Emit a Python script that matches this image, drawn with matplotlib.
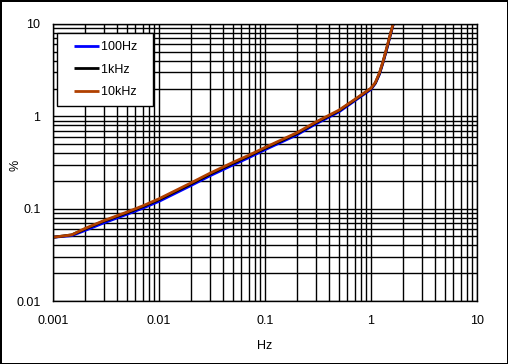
import matplotlib
matplotlib.use("Agg")
import matplotlib.pyplot as plt
from matplotlib.ticker import LogLocator, FixedLocator, NullFormatter
from matplotlib.legend_handler import HandlerLine2D
from matplotlib.lines import Line2D

plt.rcParams['font.family'] = ['Liberation Sans', 'DejaVu Sans']

# level (Hz axis) and distortion (%)
freq = [0.001, 0.0015, 0.002, 0.003, 0.005, 0.007, 0.01, 0.02, 0.03, 0.05,
        0.07, 0.1, 0.2, 0.3, 0.5, 0.7, 1.0, 1.1, 1.2, 1.3, 1.4, 1.5, 1.6, 1.7]
y_100hz = [0.049, 0.051, 0.058, 0.070, 0.087, 0.101, 0.120, 0.178, 0.226, 0.298,
           0.356, 0.435, 0.630, 0.825, 1.12, 1.47, 1.96, 2.28, 2.85, 3.85, 5.2, 7.1, 9.4, 12.0]
y_1khz = [0.049, 0.052, 0.060, 0.073, 0.090, 0.105, 0.125, 0.185, 0.235, 0.310,
          0.370, 0.450, 0.650, 0.850, 1.15, 1.50, 2.00, 2.30, 2.90, 3.90, 5.3, 7.2, 9.5, 12.0]
y_10khz = [0.049, 0.052, 0.061, 0.074, 0.092, 0.107, 0.128, 0.190, 0.241, 0.318,
           0.378, 0.460, 0.665, 0.865, 1.17, 1.52, 2.02, 2.33, 2.95, 3.95, 5.4, 7.3, 9.6, 12.0]

series = [("100Hz", y_100hz, "#0000ff"),
          ("1kHz", y_1khz, "#000000"),
          ("10kHz", y_10khz, "#b04000")]

FS = 9

fig = plt.figure(figsize=(5.08, 3.64), dpi=100, facecolor='white',
                 edgecolor='black', linewidth=2)
ax = fig.add_axes([53 / 508, (364 - 301) / 364, 424 / 508, 277 / 364])

for label, y, color in series:
    ax.plot(freq, y, color=color, lw=2, label=label + '  ', solid_capstyle='butt')

ax.set_xscale('log')
ax.set_yscale('log')
ax.set_xlim(0.001, 10)
ax.set_ylim(0.01, 10)

ax.xaxis.set_major_locator(FixedLocator([0.001, 0.01, 0.1, 1, 10]))
ax.yaxis.set_major_locator(FixedLocator([0.01, 0.1, 1, 10]))
ax.set_xticklabels(['0.001', '0.01', '0.1', '1', '10'])
ax.set_yticklabels(['0.01', '0.1', '1', '10'])
ax.xaxis.set_minor_locator(LogLocator(base=10, subs=range(2, 10)))
ax.yaxis.set_minor_locator(LogLocator(base=10, subs=range(2, 10)))
ax.xaxis.set_minor_formatter(NullFormatter())
ax.yaxis.set_minor_formatter(NullFormatter())

ax.grid(True, which='both', color='black', lw=1.0)
ax.set_axisbelow(True)
ax.tick_params(which='both', length=0, labelsize=FS)
ax.tick_params(axis='x', pad=10)
ax.tick_params(axis='y', pad=9)
for s in ax.spines.values():
    s.set_color('black')
    s.set_linewidth(1.0)

ax.set_xlabel('Hz', fontsize=FS)
ax.set_ylabel('%', fontsize=FS)
ax.xaxis.set_label_coords(0.5, -0.141)
ax.yaxis.set_label_coords(-0.074, 0.49)

leg = ax.legend(loc='upper left', bbox_to_anchor=(0.009, 0.968), fontsize=FS,
                frameon=True, fancybox=False, framealpha=1, edgecolor='black',
                handlelength=2.7, handletextpad=0.2, labelspacing=0.85,
                borderpad=0.65, borderaxespad=0,
                handler_map={Line2D: HandlerLine2D(xpad=0.7)})
leg.get_frame().set_linewidth(1.0)

fig.savefig('out.png', dpi=100, facecolor='white', edgecolor='black')
